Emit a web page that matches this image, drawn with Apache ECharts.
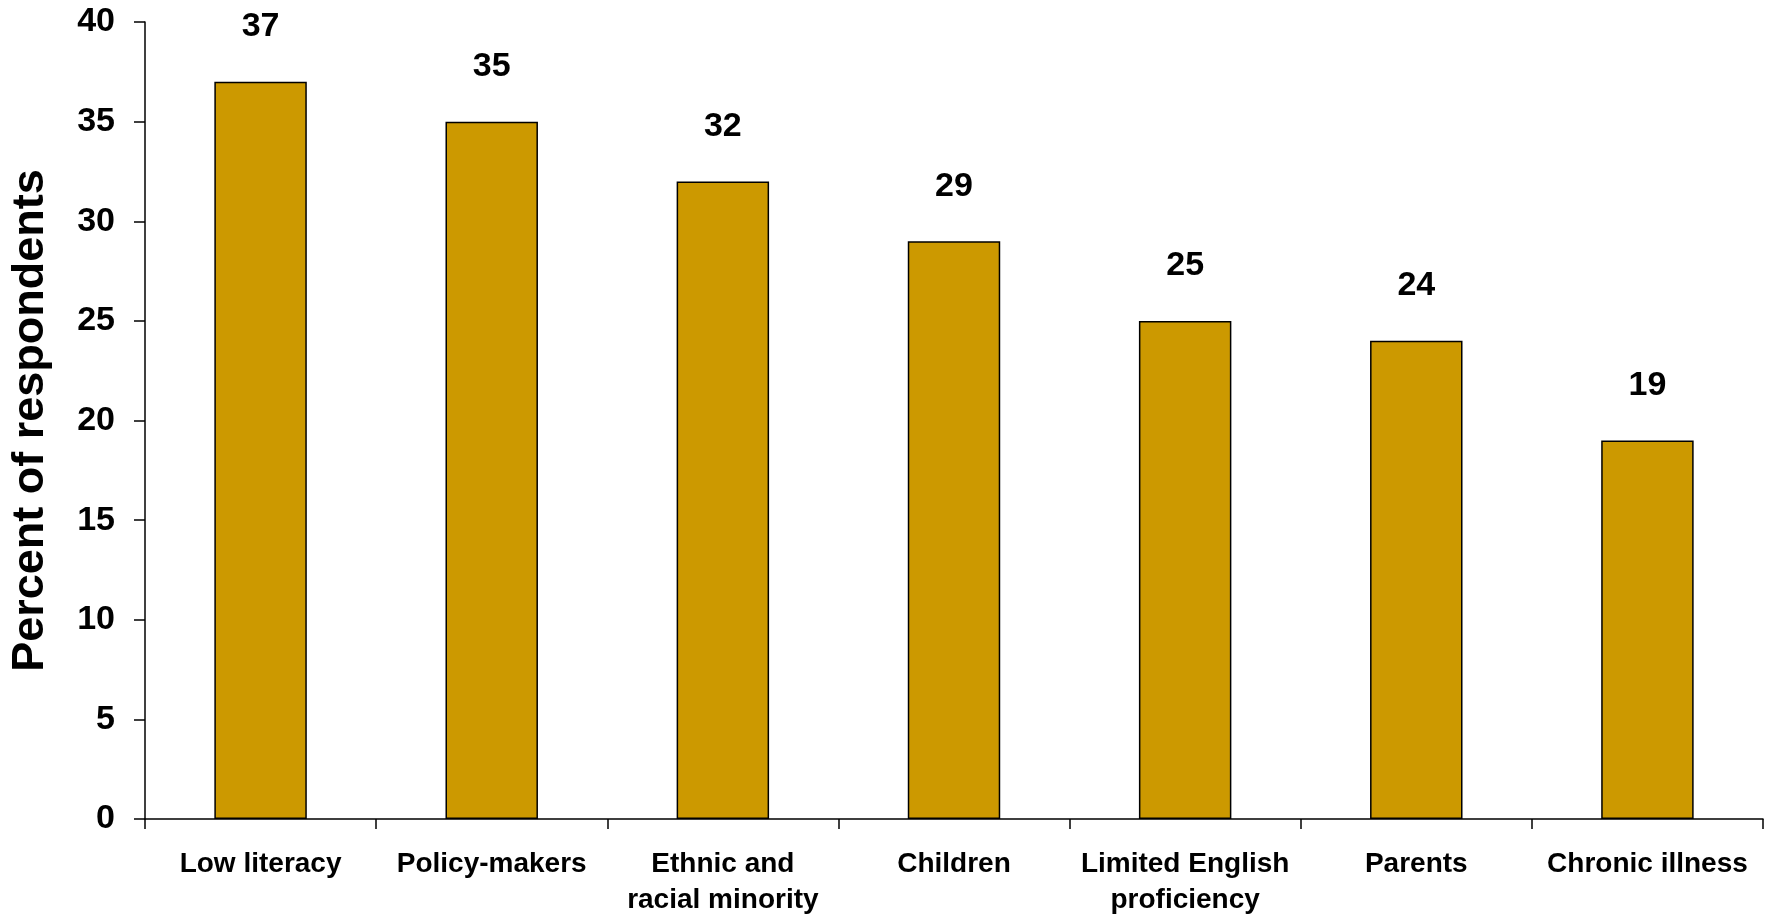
<!DOCTYPE html>
<html>
<head>
<meta charset="utf-8">
<script src="https://cdn.jsdelivr.net/npm/echarts@6/dist/echarts.min.js"></script>
<style>
html,body{margin:0;padding:0;background:#fff;}
#chart{width:1768px;height:918px;}
</style>
</head>
<body>
<div id="chart"></div>
<script>
const categories = ["Low literacy", "Policy-makers", "Ethnic and\nracial minority", "Children", "Limited English\nproficiency", "Parents", "Chronic illness"];
const values = [37, 35, 32, 29, 25, 24, 19];
const yTicks = [0, 5, 10, 15, 20, 25, 30, 35, 40];
const yTitle = "Percent of respondents";

const FONT = '"Liberation Sans", Arial, sans-serif';
const chart = echarts.init(document.getElementById('chart'), null, {renderer: 'canvas'});
chart.setOption({
  animation: false,
  backgroundColor: '#ffffff',
  grid: {left: 145, right: 5, top: 22, bottom: 98, containLabel: false},
  xAxis: {
    type: 'category',
    data: categories,
    axisLine: {show: true, lineStyle: {color: '#000', width: 1.5}},
    axisTick: {show: true, inside: false, length: 10, alignWithLabel: false, lineStyle: {color: '#000', width: 1.5}},
    axisLabel: {
      interval: 0, margin: 27, color: '#000', fontFamily: FONT, fontWeight: 'bold',
      fontSize: 28, lineHeight: 36, align: 'center'
    },
    splitLine: {show: false}
  },
  yAxis: {
    type: 'value',
    min: yTicks[0],
    max: yTicks[yTicks.length - 1],
    interval: yTicks[1] - yTicks[0],
    name: yTitle,
    nameLocation: 'middle',
    nameGap: 92,
    nameTextStyle: {color: '#000', fontFamily: FONT, fontWeight: 'bold', fontSize: 45},
    axisLine: {show: true, lineStyle: {color: '#000', width: 1.5}},
    axisTick: {show: true, inside: false, length: 11, lineStyle: {color: '#000', width: 1.5}},
    axisLabel: {margin: 30, color: '#000', fontFamily: FONT, fontWeight: 'bold', fontSize: 34},
    splitLine: {show: false}
  },
  series: [{
    type: 'bar',
    data: values,
    barWidth: '40%',
    itemStyle: {color: '#CC9900', borderColor: '#000', borderWidth: 1.5},
    label: {
      show: true, position: 'top', distance: 38, color: '#000',
      fontFamily: FONT, fontWeight: 'bold', fontSize: 34
    }
  }]
});
</script>
</body>
</html>
